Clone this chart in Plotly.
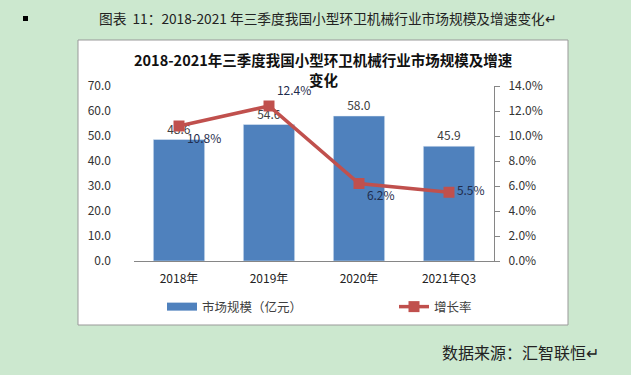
import plotly.graph_objects as go

categories = ["2018年", "2019年", "2020年", "2021年Q3"]
market_size = [48.6, 54.6, 58.0, 45.9]
growth_rate = [10.8, 12.4, 6.2, 5.5]
left_ticks = [0, 10, 20, 30, 40, 50, 60, 70]
right_ticks = [0, 2, 4, 6, 8, 10, 12, 14]

W, H = 631, 375
def px(x): return x / W
def py(y): return 1 - y / H

FONT = "Noto Sans CJK SC, Liberation Sans, sans-serif"
BG = "#CCE8CF"
TXT = "#404040"
BLUE = "#4F81BD"
RED = "#C0504D"

fig = go.Figure()
fig.add_trace(go.Bar(
    x=categories, y=market_size, name="市场规模（亿元）", showlegend=False,
    marker=dict(color=BLUE), width=0.57,
    text=[f"{v:.1f}" for v in market_size], textposition="outside",
    textfont=dict(size=12, color=TXT), cliponaxis=False,
))
# legend-only entry so the bar key is drawn as a wide band like the original
fig.add_trace(go.Scatter(
    x=[None], y=[None], mode="lines", name="市场规模（亿元）",
    line=dict(color=BLUE, width=8),
))
fig.add_trace(go.Scatter(
    x=categories, y=growth_rate, name="增长率", yaxis="y2", mode="lines+markers+text",
    line=dict(color=RED, width=3.5),
    marker=dict(symbol="square", size=11, color=RED),
    text=[f"{v:.1f}%" for v in growth_rate],
    textposition=["bottom right", "top right", "bottom right", "middle right"],
    textfont=dict(size=12, color="#1F2D4D"), cliponaxis=False,
))

fig.update_layout(
    width=W, height=H, margin=dict(l=0, r=0, t=0, b=0, autoexpand=False),
    paper_bgcolor=BG, plot_bgcolor="white",
    font=dict(family=FONT, size=12, color=TXT),
    showlegend=True,
    legend=dict(orientation="h", xref="container", yref="container",
                x=px(162), y=py(307), xanchor="left", yanchor="middle",
                entrywidth=187, entrywidthmode="pixels", bgcolor="rgba(0,0,0,0)",
                font=dict(size=12.5, color=TXT)),
    xaxis=dict(domain=[px(134), px(494)], showline=True, linecolor="#868686", linewidth=1,
               ticks="", tickfont=dict(size=12, color="#222"), ticklabelstandoff=7,
               automargin=False),
    yaxis=dict(range=[0, 70], tickvals=left_ticks, tickformat=".1f", domain=[py(261), py(86)],
               showgrid=False, zeroline=False, showline=False, ticklabelstandoff=22,
               tickfont=dict(size=12, color="#333"), automargin=False),
    yaxis2=dict(range=[0, 14], tickvals=right_ticks, ticktext=[f"{v:.1f}%" for v in right_ticks],
                overlaying="y", side="right", anchor="x", showgrid=False, zeroline=False,
                showline=True, linecolor="#868686", ticks="outside", ticklen=5, tickcolor="#868686",
                tickfont=dict(size=12, color="#333"), ticklabelstandoff=6, automargin=False),
    shapes=[
        dict(type="rect", xref="paper", yref="paper", x0=px(78), x1=px(568), y0=py(325), y1=py(40),
             fillcolor="white", line=dict(color="#999999", width=1), layer="below"),
        dict(type="rect", xref="paper", yref="paper", x0=px(23), x1=px(28), y0=py(21), y1=py(16),
             fillcolor="black", line=dict(width=0)),
    ],
    annotations=[
        dict(text="<b>2018-2021年三季度我国小型环卫机械行业市场规模及增速</b>",
             xref="paper", yref="paper", x=px(324), y=py(59), yanchor="middle", showarrow=False,
             font=dict(size=14.5, color="#111")),
        dict(text="<b>变化</b>",
             xref="paper", yref="paper", x=px(324), y=py(79), yanchor="middle", showarrow=False,
             font=dict(size=14.5, color="#111")),
        dict(text="图表  11：2018-2021 年三季度我国小型环卫机械行业市场规模及增速变化↵",
             xref="paper", yref="paper", x=px(97), y=py(18), xanchor="left", yanchor="middle",
             showarrow=False, font=dict(size=13.7, color="#222")),
        dict(text="数据来源：汇智联恒↵",
             xref="paper", yref="paper", x=px(440), y=py(352), xanchor="left", yanchor="middle",
             showarrow=False, font=dict(size=16, color="#222")),
    ],
)

fig.write_html("out.html", config={"displayModeBar": False},
               post_script="document.body.style.margin='0px';document.body.style.overflow='hidden';")
